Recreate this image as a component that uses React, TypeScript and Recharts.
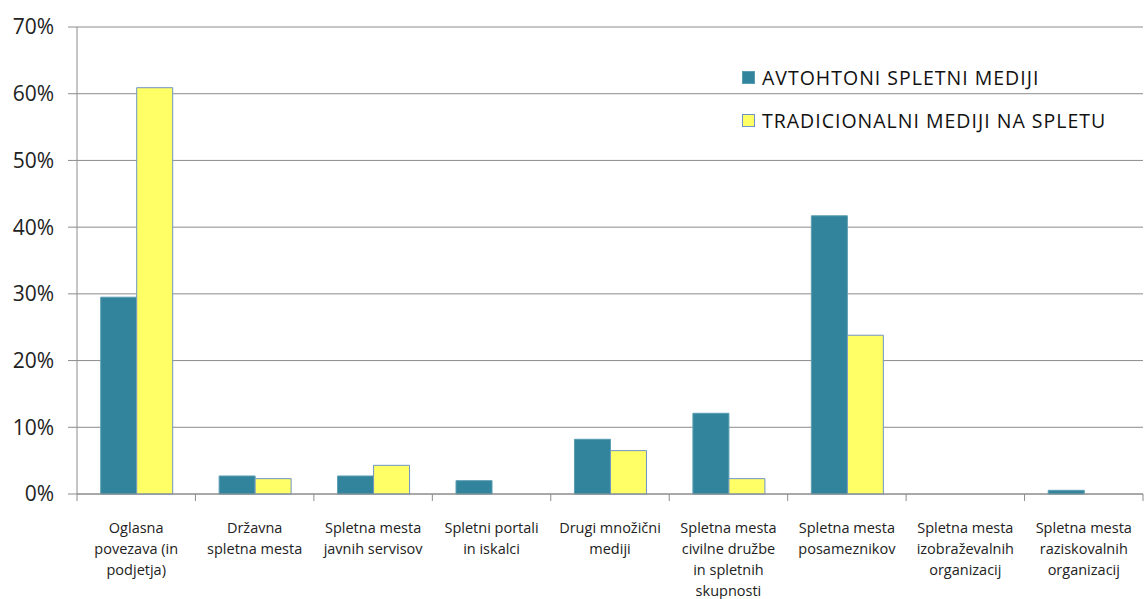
import { BarChart, Bar, XAxis, YAxis, CartesianGrid, Legend } from "recharts"

const categories = [
  ["Oglasna", "povezava (in", "podjetja)"],
  ["Državna", "spletna mesta"],
  ["Spletna mesta", "javnih servisov"],
  ["Spletni portali", "in iskalci"],
  ["Drugi množični", "mediji"],
  ["Spletna mesta", "civilne družbe", "in spletnih", "skupnosti"],
  ["Spletna mesta", "posameznikov"],
  ["Spletna mesta", "izobraževalnih", "organizacij"],
  ["Spletna mesta", "raziskovalnih", "organizacij"]
]

const avtohtoni = [29.5, 2.7, 2.7, 2.0, 8.2, 12.1, 41.7, 0, 0.55]
const tradicionalni = [60.9, 2.3, 4.3, 0, 6.5, 2.3, 23.8, 0, 0]

const yTicks = [0, 10, 20, 30, 40, 50, 60, 70]

const seriesNames = ["AVTOHTONI SPLETNI MEDIJI", "TRADICIONALNI MEDIJI NA SPLETU"]

const data = categories.map((lines, i) => ({
  key: String(i),
  lines,
  avtohtoni: avtohtoni[i],
  tradicionalni: tradicionalni[i]
}))

const FONT = "'Open Sans', 'DejaVu Sans', sans-serif"
const GRID = "#8c8c8c"

const WIDTH = 1144
const HEIGHT = 599
const Y_WIDTH = 77
const X_HEIGHT = 105
const MARGIN = { top: 27, right: 1, left: 0, bottom: 0 }
const BAND = (WIDTH - Y_WIDTH - MARGIN.right) / categories.length

function CategoryTick(props: any) {
  const { x, y, payload, index } = props
  const lines = data[index]?.lines ?? [payload.value]
  const left = x - BAND / 2
  return (
    <g>
      <line x1={left} y1={y - 8} x2={left} y2={y - 1} stroke={GRID} />
      {index === categories.length - 1 && (
        <line x1={left + BAND} y1={y - 8} x2={left + BAND} y2={y - 1} stroke={GRID} />
      )}
      <text
        x={x}
        y={y + 31}
        textAnchor="middle"
        fontFamily={FONT}
        fontSize={14.5}
        fill="#222"
      >
        {lines.map((l: string, k: number) => (
          <tspan key={k} x={x} dy={k === 0 ? 0 : 21}>
            {l}
          </tspan>
        ))}
      </text>
    </g>
  )
}

function LegendBox(props: any) {
  const { payload } = props
  return (
    <div style={{ fontFamily: FONT }}>
      {(payload ?? []).map((p: any, i: number) => (
        <div
          key={i}
          style={{ display: "flex", alignItems: "center", height: 43 }}
        >
          <span
            style={{
              width: 11,
              height: 11,
              background: p.color,
              border: `1px solid ${i === 0 ? "#5a9db3" : "#6f93c6"}`,
              marginRight: 7
            }}
          />
          <span style={{ fontSize: 19.5, color: "#111", letterSpacing: 1 }}>{p.value}</span>
        </div>
      ))}
    </div>
  )
}

export default function App() {
  return (
    <div style={{ position: "absolute", left: 0, top: 0, background: "#fff" }}>
      <BarChart
        width={WIDTH}
        height={HEIGHT}
        data={data}
        margin={MARGIN}
        barGap={0}
        barCategoryGap="20%"
      >
        <CartesianGrid vertical={false} stroke={GRID} />
        <XAxis
          dataKey="key"
          tick={<CategoryTick />}
          tickLine={false}
          axisLine={{ stroke: GRID }}
          interval={0}
          height={X_HEIGHT}
        />
        <YAxis
          domain={[0, 70]}
          ticks={yTicks}
          tickFormatter={(v) => `${v}%`}
          axisLine={{ stroke: GRID }}
          tickLine={{ stroke: GRID }}
          tickSize={9}
          tickMargin={14}
          width={Y_WIDTH}
          tick={{ fontFamily: FONT, fontSize: 21, fill: "#222" }}
          interval={0}
        />
        <Legend
          layout="vertical"
          verticalAlign="middle"
          align="center"
          content={<LegendBox />}
          wrapperStyle={{ left: 742, top: 56, width: 400 }}
        />
        <Bar
          dataKey="avtohtoni"
          name={seriesNames[0]}
          fill="#31849b"
          stroke="#5a9db3"
          isAnimationActive={false}
        />
        <Bar
          dataKey="tradicionalni"
          name={seriesNames[1]}
          fill="#ffff66"
          stroke="#6f93c6"
          isAnimationActive={false}
        />
      </BarChart>
    </div>
  )
}
